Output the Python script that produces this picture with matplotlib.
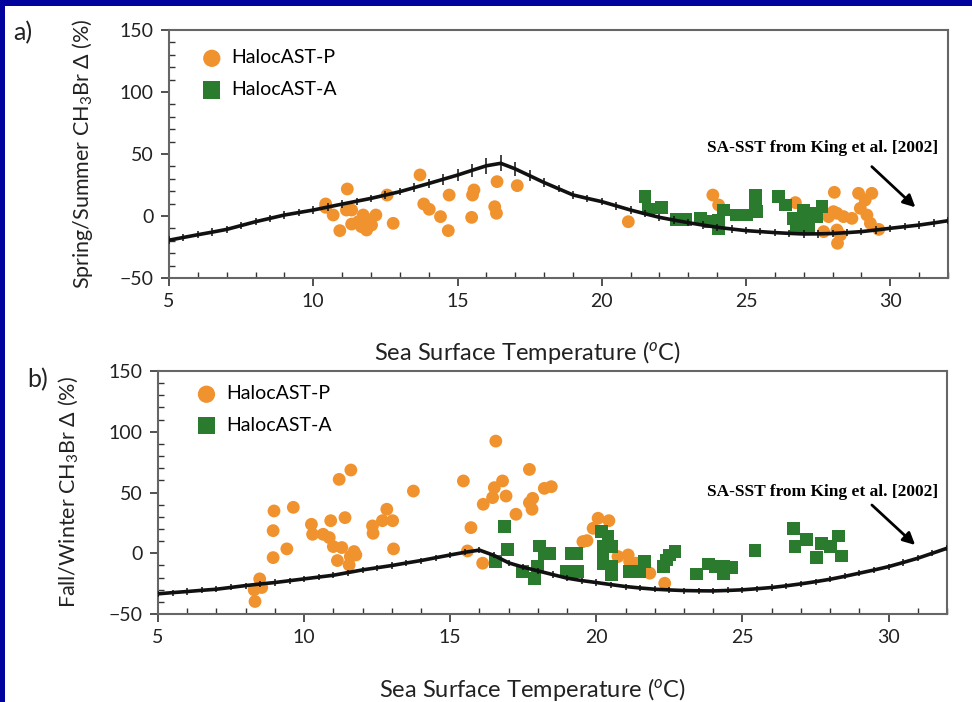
import matplotlib
matplotlib.use("Agg")
import matplotlib.pyplot as plt
from matplotlib.ticker import MultipleLocator
from matplotlib.patches import Rectangle

plt.rcParams['font.family'] = ['Lato', 'DejaVu Sans']
plt.rcParams['mathtext.fontset'] = 'custom'
plt.rcParams['mathtext.rm'] = 'Lato'
plt.rcParams['mathtext.it'] = 'Lato:italic'

ORANGE = '#F0922D'
GREEN = '#2B7B2F'

# SA-SST curve (King et al. 2002), read every 0.5 degC
sst_grid = [5, 5.5, 6, 6.5, 7, 7.5, 8, 8.5, 9, 9.5, 10, 10.5, 11, 11.5, 12, 12.5,
            13, 13.5, 14, 14.5, 15, 15.5, 16, 16.5, 17, 17.5, 18, 18.5, 19, 19.5,
            20, 20.5, 21, 21.5, 22, 22.5, 23, 23.5, 24, 24.5, 25, 25.5, 26, 26.5,
            27, 27.5, 28, 28.5, 29, 29.5, 30, 30.5, 31, 31.5, 32]
king_ss = [-19.5, -17.3, -15.1, -13, -10.8, -7.7, -4.6, -1.9, 0.8, 2.8, 4.8, 7.2,
           9.6, 11.9, 14.2, 16.9, 19.6, 22.9, 26.2, 29.6, 33, 36.8, 40.5, 42.5,
           38, 32.5, 27, 22, 17, 14.2, 11.6, 8.2, 4.8, 1.8, -1.1, -3.3, -5.4, -7.3,
           -9.1, -10.5, -11.8, -12.6, -13.4, -14, -14.5, -14.4, -14.1, -13.4, -12.6,
           -11.3, -9.9, -8.6, -7.3, -5.6, -3.8]
king_ss_err = [3, 3, 3, 3, 3, 3, 3, 3, 3, 3, 3, 3, 3, 3, 3, 3, 3, 3.5, 4, 4.5,
               5, 5.5, 6.5, 6.5, 5.5, 4.5, 3.5, 3, 3, 3, 3, 3, 3, 3, 3, 3, 3, 3,
               3, 3, 3, 3, 3, 3, 3, 3, 3, 3, 3, 3, 3, 3, 3, 3, 3]
king_fw = [-33.4, -32.4, -31.5, -30.5, -29.6, -28.1, -26.6, -25.3, -24.1, -22.6,
           -21.1, -19.6, -18.1, -15.9, -13.7, -11.9, -10.1, -8, -6, -3.7, -1.4,
           0.8, 2.6, -1.8, -7.9, -11.5, -14.5, -17.5, -20.5, -22.5, -24.1, -25.8,
           -27.4, -28.6, -29.6, -30.2, -30.7, -30.9, -31, -30.6, -30.1, -29.2,
           -28.2, -26.8, -25.2, -23.4, -21.4, -19, -16.4, -13.8, -11, -7.6, -4.1,
           0, 4.1]
king_fw_err = [2.5] * len(sst_grid)

# spring/summer, HalocAST-P
ss_p_sst = [10.43, 10.43, 11.18, 10.69, 10.92, 11.15, 11.33, 11.33, 11.56, 11.73,
            11.85, 11.67, 11.96, 12.17, 12.02, 12.56, 12.77, 13.7, 13.83, 14.02,
            14.41, 14.71, 14.68, 15.49, 15.52, 15.57, 16.29, 16.35, 16.37, 17.07,
            20.92, 23.85, 24.05, 26.71, 28.06, 28.15, 27.86, 27.69, 28.15, 28.17,
            28.27, 28.38, 28.67, 28.9, 29.36, 29.13, 28.96, 29.19, 29.31, 29.6, 28.03]
ss_p_delta = [9.7, 7.0, 21.8, 0.8, -11.8, 4.8, 4.8, -6.5, -4.6, 0.8,
              -11.3, -8.6, -3.2, 0.8, -7.3, 16.9, -5.9, 33.1, 9.7, 5.4,
              -0.5, 16.9, -11.8, -1.1, 16.9, 21, 7.5, 2.2, 27.7, 24.5,
              -4.6, 16.9, 8.9, 10.8, 19.1, 2.2, -0.5, -12.6, -11.3, -22,
              -15.3, -0.5, -1.9, 18.3, 18.3, 12.9, 6.2, 0.8, -5.9, -10.8, 3.5]

# spring/summer, HalocAST-A
ss_a_sst = [21.5, 21.62, 22.06, 22.58, 22.89, 23.41, 23.76, 24.05, 24.05, 24.22,
            24.68, 25.03, 25.32, 25.32, 25.35, 26.13, 26.36, 26.65, 26.76, 26.99,
            27.05, 27.17, 27.63, 27.46, 27.23]
ss_a_delta = [15.6, 5.6, 7, -2.7, -2.7, -1.9, -4.6, -9.9, -3.2, 4.8,
              0.8, 0.8, 16.9, 8.9, 3.5, 15.6, 8.9, -1.9, -8.6, 4.8,
              -1.9, -8.6, 7.5, -0.5, 2.2]

# fall/winter, HalocAST-P
fw_p_sst = [8.32, 8.29, 8.48, 8.55, 8.94, 8.94, 8.97, 9.41, 9.63, 10.25, 10.29,
            10.65, 10.86, 10.91, 11.2, 11.6, 11.0, 11.14, 11.29, 11.4, 11.54, 11.58,
            11.71, 11.77, 12.34, 12.36, 12.68, 12.83, 13.03, 13.06, 13.74, 15.45,
            15.71, 15.59, 16.11, 16.13, 16.56, 16.51, 16.79, 16.45, 16.91, 17.25,
            17.71, 17.71, 17.82, 17.8, 18.22, 18.46, 20.06, 20.43, 19.89, 19.54,
            19.68, 20.74, 21.09, 21.14, 21.37, 21.83, 22.34]
fw_p_delta = [-39.7, -30.1, -21.1, -28.2, -3.6, 18.6, 34.8, 3.6, 37.8, 23.8, 15.6,
              15.6, 12.9, 26.8, 60.8, 68.5, 5.5, -6, 4.7, 29.3, -9.6, -2.7,
              1.4, -1.4, 22.5, 16.4, 26.8, 36.2, 26.8, 3.6, 51.2, 59.5,
              21.1, 1.9, -8.2, 40.3, 92.3, 54, 59.5, 45.8, 47.1, 32.1,
              69, 41.6, 45.2, 36.2, 53.4, 54.8, 28.8, 26.8, 20.5, 9.6,
              10.4, -2.7, -1.4, -6.8, -8.2, -16.4, -24.7]

# fall/winter, HalocAST-A
fw_a_sst = [16.85, 16.96, 16.56, 17.48, 17.88, 18.05, 18.22, 17.99, 18.4, 19.14,
            19.31, 18.97, 19.37, 20.17, 20.4, 20.23, 20.51, 20.23, 20.23, 20.51,
            20.51, 21.14, 21.49, 21.66, 22.29, 22.4, 22.51, 22.69, 23.43, 23.83,
            24.06, 24.34, 24.63, 24.34, 25.43, 26.74, 26.8, 27.2, 27.54, 27.71,
            28.29, 28.4, 28.0]
fw_a_delta = [21.9, 3.3, -6.8, -15.1, -20.5, 6, 0, -11, 0, 0,
              0, -15.1, -15.1, 17.8, 13.7, 5.5, 5.5, -1.4, -8.2, -11,
              -17.8, -15.1, -15.1, -6.8, -11, -5.5, -1.4, 1.4, -17, -8.8,
              -11, -17, -11.5, -11, 2.2, 20.5, 5.5, 11, -3.3, 8.2,
              14.2, -2.2, 5.5]

fig = plt.figure(figsize=(9.72, 7.02), dpi=100)
fig.patch.set_facecolor('#02029C')
fig.add_artist(Rectangle((5 / 972, 0), 1, 1 - 6 / 702, transform=fig.transFigure,
                         facecolor='white', edgecolor='none', zorder=-10))

ax1 = fig.add_axes([169 / 972, 1 - 278 / 702, 779 / 972, 248 / 702])
ax2 = fig.add_axes([158 / 972, 1 - 614 / 702, 789 / 972, 243 / 702])


def style(ax, ylabel, ylab_x, xlab_x, xlab_y):
    ax.set_xlim(5, 32)
    ax.set_ylim(-50, 150)
    ax.xaxis.set_major_locator(MultipleLocator(5))
    ax.xaxis.set_minor_locator(MultipleLocator(1))
    ax.yaxis.set_major_locator(MultipleLocator(50))
    ax.yaxis.set_minor_locator(MultipleLocator(10))
    ax.tick_params(which='major', direction='out', length=6, width=1.2,
                   colors='#333333', labelsize=14, pad=5, labelcolor='#222222')
    ax.tick_params(which='minor', direction='in', length=4, width=1.0, colors='#333333')
    for s in ax.spines.values():
        s.set_color('#666666')
        s.set_linewidth(1.5)
    ax.set_xlabel('Sea Surface Temperature ($^{o}$C)', fontsize=17, color='#222222')
    ax.set_ylabel(ylabel, fontsize=15.5, color='#222222')
    ax.yaxis.set_label_coords(ylab_x, 0.5)
    ax.xaxis.set_label_coords(xlab_x, xlab_y)


for ax, p_x, p_y, a_x, a_y, curve, err, leg_at in [
        (ax1, ss_p_sst, ss_p_delta, ss_a_sst, ss_a_delta, king_ss, king_ss_err, (0.015, 1.008)),
        (ax2, fw_p_sst, fw_p_delta, fw_a_sst, fw_a_delta, king_fw, king_fw_err, (0.022, 1.029))]:
    ax.scatter(p_x, p_y, s=85, color=ORANGE, marker='o', edgecolors='none',
               label='HalocAST-P', zorder=2)
    ax.scatter(a_x, a_y, s=85, color=GREEN, marker='s', edgecolors='none',
               label='HalocAST-A', zorder=3)
    ax.errorbar(sst_grid, curve, yerr=err, color='#111111', lw=2.6,
                elinewidth=1.1, capsize=0, zorder=4)
    ax.legend(loc='upper left', bbox_to_anchor=leg_at, frameon=False,
              fontsize=14, markerscale=1.35, handlelength=1.0, handletextpad=0.5,
              labelspacing=0.75, borderaxespad=0.5, borderpad=0.6)

style(ax1, 'Spring/Summer CH$_3$Br Δ (%)', -0.095, 0.46, -0.245)
style(ax2, 'Fall/Winter CH$_3$Br Δ (%)', -0.099, 0.475, -0.255)

# King et al. label and arrow
ax1.text(27.65, 54.6, 'SA-SST from King et al. [2002]', family='Liberation Serif',
         fontweight='bold', fontsize=12.5, ha='center', va='center', zorder=5)
ax1.annotate('', xy=(30.87, 7), xytext=(29.36, 39.8),
             arrowprops=dict(arrowstyle='-|>', color='black', lw=2,
                             mutation_scale=18, shrinkA=0, shrinkB=0))
ax2.text(27.74, 50.7, 'SA-SST from King et al. [2002]', family='Liberation Serif',
         fontweight='bold', fontsize=12.5, ha='center', va='center', zorder=5)
ax2.annotate('', xy=(30.91, 6.8), xytext=(29.43, 39.7),
             arrowprops=dict(arrowstyle='-|>', color='black', lw=2,
                             mutation_scale=18, shrinkA=0, shrinkB=0))

fig.text(13 / 972, 1 - 33 / 702, 'a)', fontsize=18, va='center', color='#222222')
fig.text(27 / 972, 1 - 380 / 702, 'b)', fontsize=18, va='center', color='#222222')

fig.savefig('out.png', dpi=100, facecolor=fig.get_facecolor())
